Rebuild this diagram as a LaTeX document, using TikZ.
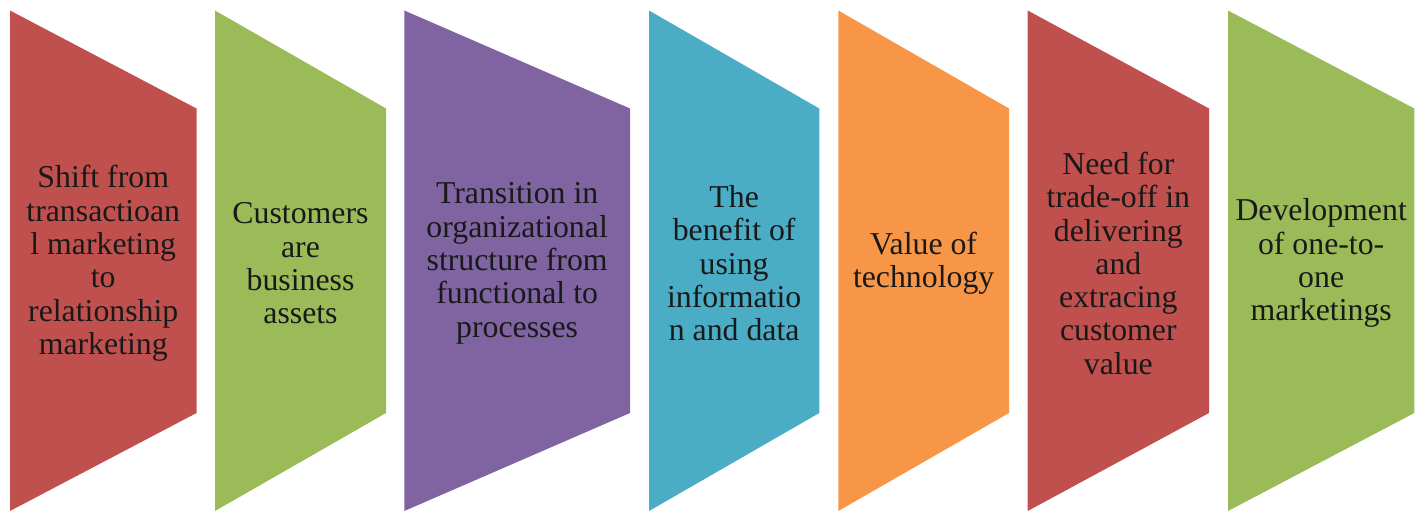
\documentclass[tikz,border=0pt]{standalone}
\usepackage{fontspec}
\setmainfont{Liberation Serif}
\definecolor{panelred}{HTML}{C0504D}
\definecolor{panelgreen}{HTML}{9BBB59}
\definecolor{panelpurple}{HTML}{8064A2}
\definecolor{panelblue}{HTML}{4BACC6}
\definecolor{panelorange}{HTML}{F79646}
\tikzset{panel text/.style={align=center, inner sep=0pt, text=black!90,
  font=\fontsize{31.8}{33.3}\selectfont}}

\begin{document}
\begin{tikzpicture}[x=1pt,y=-1pt]
\useasboundingbox (0,0) rectangle (1421,511);
% Draw the seven panels with their texts
\foreach \name/\xl/\xr/\col/\txt in {
  shift/10/196.5/panelred/{Shift from\\transactioan\\l marketing\\to\\relationship\\marketing},
  assets/215/386/panelgreen/{Customers\\are\\business\\assets},
  transition/404.3/630/panelpurple/{Transition in\\organizational\\structure from\\functional to\\processes},
  benefit/649/819.3/panelblue/{The\\benefit of\\using\\informatio\\n and data},
  technology/838.3/1009/panelorange/{Value of\\technology},
  tradeoff/1027.7/1209/panelred/{Need for\\trade-off in\\delivering\\and\\extracing\\customer\\value},
  onetoone/1228/1414.3/panelgreen/{Development\\of one-to-\\one\\marketings}}{
  \fill[\col] (\xl,10.5) -- (\xr,108.5) -- (\xr,413) -- (\xl,511) -- cycle;
  \node[panel text] (\name) at ({(\xl+\xr)/2},263.3) {\txt};
}
\end{tikzpicture}
\end{document}
